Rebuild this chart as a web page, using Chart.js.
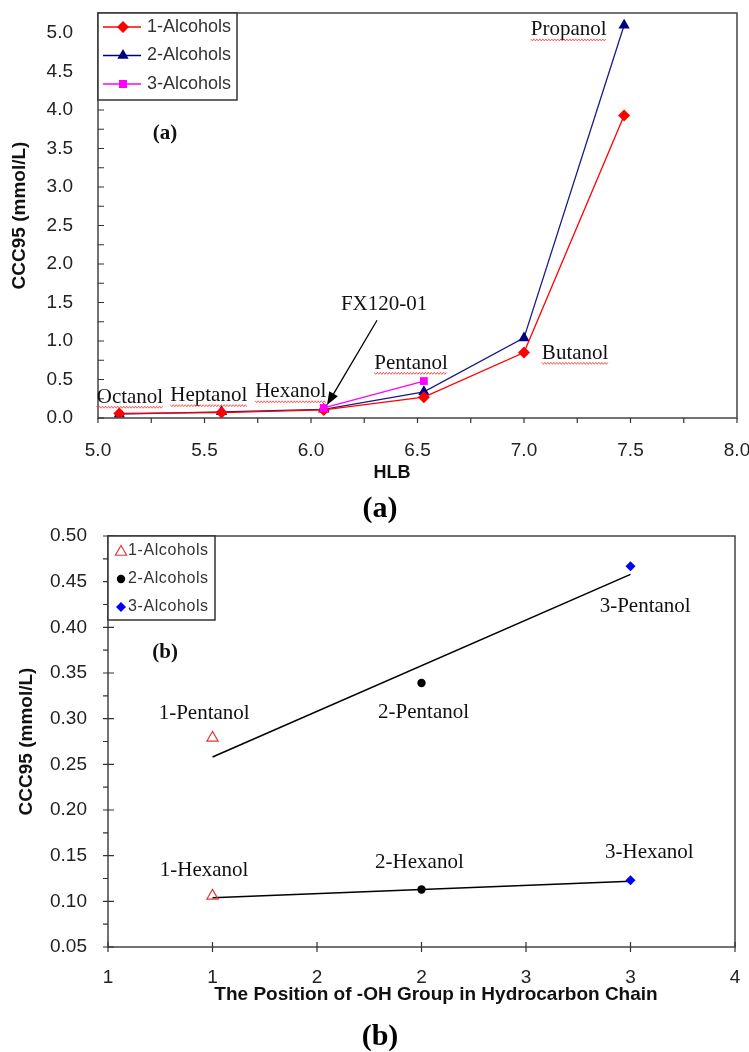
<!DOCTYPE html>
<html>
<head>
<meta charset="utf-8">
<script src="https://cdn.jsdelivr.net/npm/chart.js@4.4.1/dist/chart.umd.min.js"></script>
<style>
html,body{margin:0;padding:0;background:#fff;}
#wrap{position:relative;width:749px;height:1052px;overflow:hidden;}
#ca{position:absolute;left:0;top:0;}
#cb{position:absolute;left:0;top:525px;}
</style>
</head>
<body>
<div id="wrap">
<canvas id="ca" width="749" height="525"></canvas>
<canvas id="cb" width="749" height="527"></canvas>
</div>
<script>
// ---------- Panel (a) data ----------
const hlbValues = [5.10, 5.58, 6.06, 6.53, 7.00, 7.47];
const ccc1Alcohols = [0.06, 0.07, 0.105, 0.27, 0.85, 3.93];
const ccc2Alcohols = [0.05, 0.08, 0.113, 0.34, 1.04, 5.10];
const hlb3Alcohols = [6.06, 6.53];
const ccc3Alcohols = [0.13, 0.48];
const seriesNames = ['1-Alcohols', '2-Alcohols', '3-Alcohols'];
const xTicksA = [5.0, 5.5, 6.0, 6.5, 7.0, 7.5, 8.0];
const xTickLabelsA = ['5.0', '5.5', '6.0', '6.5', '7.0', '7.5', '8.0'];
const yTicksA = [0, 0.5, 1.0, 1.5, 2.0, 2.5, 3.0, 3.5, 4.0, 4.5, 5.0];
const yTickLabelsA = ['0.0', '0.5', '1.0', '1.5', '2.0', '2.5', '3.0', '3.5', '4.0', '4.5', '5.0'];
const alcoholNamesA = ['Octanol', 'Heptanol', 'Hexanol', 'Pentanol', 'Butanol', 'Propanol'];

// ---------- Panel (b) data ----------
const ohPosition = [1, 2, 3];
const cccPentanol = [0.279, 0.339, 0.467];
const cccHexanol = [0.106, 0.113, 0.123];
const fitX = [1, 3];
const fitPentanol = [0.258, 0.458];
const fitHexanol = [0.104, 0.122];
const pentanolNames = ['1-Pentanol', '2-Pentanol', '3-Pentanol'];
const hexanolNames = ['1-Hexanol', '2-Hexanol', '3-Hexanol'];
const xTicksB = [0.5, 1.0, 1.5, 2.0, 2.5, 3.0, 3.5];
const xTickLabelsB = ['1', '1', '2', '2', '3', '3', '4'];
const yTicksB = [0.05, 0.10, 0.15, 0.20, 0.25, 0.30, 0.35, 0.40, 0.45, 0.50];
const yTickLabelsB = ['0.05', '0.10', '0.15', '0.20', '0.25', '0.30', '0.35', '0.40', '0.45', '0.50'];

// ---------- helpers ----------
const SANS = "'Liberation Sans', Arial, sans-serif";
const SERIF = "'Liberation Serif', 'Times New Roman', serif";

function drawMarker(ctx, style, x, y, r, fill, stroke, lw) {
  ctx.save();
  ctx.beginPath();
  if (style === 'diamond') {
    ctx.moveTo(x, y - r); ctx.lineTo(x + r, y); ctx.lineTo(x, y + r); ctx.lineTo(x - r, y); ctx.closePath();
  } else if (style === 'triangle') {
    ctx.moveTo(x, y - r); ctx.lineTo(x + r * 0.866, y + r * 0.5); ctx.lineTo(x - r * 0.866, y + r * 0.5); ctx.closePath();
  } else if (style === 'square') {
    ctx.rect(x - r, y - r, 2 * r, 2 * r);
  } else {
    ctx.arc(x, y, r, 0, Math.PI * 2);
  }
  if (fill) { ctx.fillStyle = fill; ctx.fill(); }
  if (stroke) { ctx.strokeStyle = stroke; ctx.lineWidth = lw || 1; ctx.stroke(); }
  ctx.restore();
}

function wavy(ctx, x0, x1, y) {
  ctx.save();
  ctx.strokeStyle = '#ff3030';
  ctx.lineWidth = 0.8;
  ctx.beginPath();
  let i = 0;
  for (let x = x0; x <= x1; x += 1.5, i++) {
    const yy = y + ((i % 2) ? 1 : -1);
    if (i === 0) ctx.moveTo(x, yy); else ctx.lineTo(x, yy);
  }
  ctx.stroke();
  ctx.restore();
}

function serifLabel(ctx, text, px, py, underline) {
  ctx.save();
  ctx.font = '21px ' + SERIF;
  ctx.fillStyle = '#111';
  ctx.textAlign = 'center';
  ctx.textBaseline = 'middle';
  ctx.fillText(text, px, py);
  if (underline) {
    const w = ctx.measureText(text).width;
    wavy(ctx, px - w / 2, px + w / 2, py + 10);
  }
  ctx.restore();
}

function ticksFromArray(arr) {
  return s => { s.ticks = arr.map(v => ({ value: v })); };
}
function fixSize(prop, val) {
  return s => {
    s[prop] = val;
    s.paddingTop = 0; s.paddingBottom = 0; s.paddingLeft = 0; s.paddingRight = 0;
  };
}

// ---------- Panel (a) annotations (data coordinates) ----------
const labelPosA = [
  { x: 5.15, y: 0.27 }, { x: 5.52, y: 0.29 }, { x: 5.905, y: 0.34 },
  { x: 6.47, y: 0.71 }, { x: 7.24, y: 0.84 }, { x: 7.21, y: 5.04 }
];

const panelAPlugin = {
  id: 'panelA',
  afterDraw(chart) {
    const { ctx, chartArea: ca, scales: { x, y } } = chart;
    ctx.save();
    ctx.strokeStyle = '#444';
    ctx.lineWidth = 1.5;
    ctx.strokeRect(ca.left, ca.top, ca.right - ca.left, ca.bottom - ca.top);
    ctx.strokeStyle = '#333';
    ctx.lineWidth = 1.2;
    ctx.beginPath();
    for (let i = 0; i < xTicksA.length; i++) {
      const vals = [xTicksA[i]];
      if (i < xTicksA.length - 1) vals.push((xTicksA[i] + xTicksA[i + 1]) / 2);
      vals.forEach(v => { const px = x.getPixelForValue(v); ctx.moveTo(px, ca.bottom); ctx.lineTo(px, ca.bottom + 5); });
    }
    for (let i = 0; i < yTicksA.length; i++) {
      const vals = [yTicksA[i]];
      if (i < yTicksA.length - 1) vals.push((yTicksA[i] + yTicksA[i + 1]) / 2);
      vals.forEach(v => { const py = y.getPixelForValue(v); ctx.moveTo(ca.left, py); ctx.lineTo(ca.left + 6, py); });
    }
    ctx.stroke();

    alcoholNamesA.forEach((name, i) => {
      serifLabel(ctx, name, x.getPixelForValue(labelPosA[i].x), y.getPixelForValue(labelPosA[i].y), true);
    });
    serifLabel(ctx, 'FX120-01', x.getPixelForValue(6.343), y.getPixelForValue(1.48), false);

    const tx = x.getPixelForValue(6.31), ty = y.getPixelForValue(1.27);
    const hx = x.getPixelForValue(6.075), hy = y.getPixelForValue(0.17);
    const ang = Math.atan2(hy - ty, hx - tx);
    ctx.strokeStyle = '#000';
    ctx.lineWidth = 1.3;
    ctx.beginPath();
    ctx.moveTo(tx, ty);
    ctx.lineTo(hx - 10 * Math.cos(ang), hy - 10 * Math.sin(ang));
    ctx.stroke();
    ctx.fillStyle = '#000';
    ctx.beginPath();
    ctx.moveTo(hx, hy);
    ctx.lineTo(hx - 13 * Math.cos(ang) + 5 * Math.sin(ang), hy - 13 * Math.sin(ang) - 5 * Math.cos(ang));
    ctx.lineTo(hx - 13 * Math.cos(ang) - 5 * Math.sin(ang), hy - 13 * Math.sin(ang) + 5 * Math.cos(ang));
    ctx.closePath();
    ctx.fill();

    ctx.font = 'bold 21px ' + SERIF;
    ctx.fillStyle = '#111';
    ctx.textAlign = 'center';
    ctx.textBaseline = 'middle';
    ctx.fillText('(a)', x.getPixelForValue(5.315), y.getPixelForValue(3.70));

    const lx = ca.left, ly = ca.top, lw = 139, lh = 87;
    ctx.fillStyle = '#fff';
    ctx.fillRect(lx, ly, lw, lh);
    ctx.strokeStyle = '#333';
    ctx.lineWidth = 1.5;
    ctx.strokeRect(lx, ly, lw, lh);
    const legA = [
      { c: '#ff0000', m: 'diamond', r: 6 },
      { c: '#000080', m: 'triangle', r: 6.5 },
      { c: '#ff00ff', m: 'square', r: 4 }
    ];
    legA.forEach((e, i) => {
      const yy = ly + 14 + i * 28.5;
      ctx.strokeStyle = e.c;
      ctx.lineWidth = 1.3;
      ctx.beginPath(); ctx.moveTo(lx + 5, yy); ctx.lineTo(lx + 43, yy); ctx.stroke();
      drawMarker(ctx, e.m, lx + 25, yy, e.r, e.c, null);
      ctx.font = '18px ' + SANS;
      ctx.fillStyle = '#333';
      ctx.textAlign = 'left';
      ctx.textBaseline = 'middle';
      ctx.fillText(seriesNames[i], lx + 49, yy);
    });

    ctx.fillStyle = '#111';
    ctx.font = 'bold 18px ' + SANS;
    ctx.textAlign = 'center';
    ctx.textBaseline = 'middle';
    ctx.fillText('HLB', 392, 473);
    ctx.save();
    ctx.translate(20, (ca.top + ca.bottom) / 2);
    ctx.rotate(-Math.PI / 2);
    ctx.font = 'bold 19px ' + SANS;
    ctx.fillText('CCC95 (mmol/L)', 0, 0);
    ctx.restore();

    ctx.font = 'bold 30px ' + SERIF;
    ctx.fillStyle = '#000';
    ctx.fillText('(a)', 380, 509);
    ctx.restore();
  }
};

new Chart(document.getElementById('ca'), {
  type: 'scatter',
  data: {
    datasets: [
      {
        label: seriesNames[0],
        data: hlbValues.map((v, i) => ({ x: v, y: ccc1Alcohols[i] })),
        showLine: true, borderColor: '#ff0000', backgroundColor: '#ff0000', borderWidth: 1.3,
        pointStyle: 'rectRot', pointRadius: 6, pointBorderWidth: 0, order: 1
      },
      {
        label: seriesNames[1],
        data: hlbValues.map((v, i) => ({ x: v, y: ccc2Alcohols[i] })),
        showLine: true, borderColor: '#1a1a8a', backgroundColor: '#000080', borderWidth: 1.3,
        pointStyle: 'triangle', pointRadius: 6.5, pointBorderWidth: 0, order: 2
      },
      {
        label: seriesNames[2],
        data: hlb3Alcohols.map((v, i) => ({ x: v, y: ccc3Alcohols[i] })),
        showLine: true, borderColor: '#ff00ff', backgroundColor: '#ff00ff', borderWidth: 1.3,
        pointStyle: 'rect', pointRadius: 5.5, pointBorderWidth: 0, order: 0
      }
    ]
  },
  options: {
    responsive: false,
    animation: false,
    events: [],
    layout: { padding: { top: 13, right: 12, left: 0, bottom: 0 } },
    plugins: { legend: { display: false }, tooltip: { enabled: false } },
    scales: {
      x: {
        type: 'linear', min: 5, max: 8,
        afterBuildTicks: ticksFromArray(xTicksA),
        afterFit: fixSize('height', 107),
        grid: { display: false, drawTicks: false, tickLength: 0 },
        border: { display: false },
        ticks: { callback: (v, i) => xTickLabelsA[i], font: { family: SANS, size: 19 }, color: '#222', padding: 21, maxRotation: 0, autoSkip: false }
      },
      y: {
        type: 'linear', min: 0, max: 5.26,
        afterBuildTicks: ticksFromArray(yTicksA),
        afterFit: fixSize('width', 98),
        grid: { display: false, drawTicks: false, tickLength: 0 },
        border: { display: false },
        ticks: { callback: (v, i) => yTickLabelsA[i], font: { family: SANS, size: 19 }, color: '#222', padding: 25, autoSkip: false }
      }
    }
  },
  plugins: [panelAPlugin]
});

// ---------- Panel (b) ----------
const labelPosPentanol = [{ x: 0.96, y: 0.306 }, { x: 2.01, y: 0.307 }, { x: 3.07, y: 0.423 }];
const labelPosHexanol = [{ x: 0.96, y: 0.134 }, { x: 1.99, y: 0.143 }, { x: 3.09, y: 0.154 }];

const panelBPlugin = {
  id: 'panelB',
  afterDraw(chart) {
    const { ctx, chartArea: ca, scales: { x, y } } = chart;
    ctx.save();
    ctx.strokeStyle = '#444';
    ctx.lineWidth = 1.5;
    ctx.strokeRect(ca.left, ca.top, ca.right - ca.left, ca.bottom - ca.top);
    ctx.strokeStyle = '#333';
    ctx.lineWidth = 1.2;
    ctx.beginPath();
    xTicksB.forEach(v => { const px = x.getPixelForValue(v); ctx.moveTo(px, ca.bottom - 5); ctx.lineTo(px, ca.bottom + 5); });
    for (let i = 0; i < yTicksB.length; i++) {
      const py = y.getPixelForValue(yTicksB[i]);
      ctx.moveTo(ca.left - 5, py); ctx.lineTo(ca.left + 6, py);
      if (i < yTicksB.length - 1) {
        const pm = y.getPixelForValue((yTicksB[i] + yTicksB[i + 1]) / 2);
        ctx.moveTo(ca.left - 5, pm); ctx.lineTo(ca.left, pm);
      }
    }
    ctx.stroke();

    pentanolNames.forEach((n, i) => serifLabel(ctx, n, x.getPixelForValue(labelPosPentanol[i].x), y.getPixelForValue(labelPosPentanol[i].y), false));
    hexanolNames.forEach((n, i) => serifLabel(ctx, n, x.getPixelForValue(labelPosHexanol[i].x), y.getPixelForValue(labelPosHexanol[i].y), false));

    ctx.font = 'bold 21px ' + SERIF;
    ctx.fillStyle = '#111';
    ctx.textAlign = 'center';
    ctx.textBaseline = 'middle';
    ctx.fillText('(b)', x.getPixelForValue(0.773), y.getPixelForValue(0.372));

    const lx = ca.left, ly = ca.top, lw = 107, lh = 84;
    ctx.fillStyle = '#fff';
    ctx.fillRect(lx, ly, lw, lh);
    ctx.strokeStyle = '#333';
    ctx.lineWidth = 1.5;
    ctx.strokeRect(lx, ly, lw, lh);
    const legB = [
      { m: 'triangle', r: 6.5, fill: null, stroke: '#e03a3a' },
      { m: 'circle', r: 4.2, fill: '#000', stroke: null },
      { m: 'diamond', r: 5, fill: '#0000ff', stroke: null }
    ];
    legB.forEach((e, i) => {
      const yy = ly + 15 + i * 28;
      drawMarker(ctx, e.m, lx + 13, yy + (e.m === 'triangle' ? 1 : 0), e.r, e.fill, e.stroke, 1.2);
      ctx.font = '16px ' + SANS;
      ctx.fillStyle = '#333';
      ctx.textAlign = 'left';
      ctx.textBaseline = 'middle';
      try { ctx.letterSpacing = '0.6px'; } catch (err) {}
      ctx.fillText(seriesNames[i], lx + 20, yy);
      try { ctx.letterSpacing = '0px'; } catch (err) {}
    });

    ctx.fillStyle = '#111';
    ctx.font = 'bold 19px ' + SANS;
    ctx.textAlign = 'center';
    ctx.textBaseline = 'middle';
    ctx.fillText('The Position of -OH Group in Hydrocarbon Chain', 436, 470);
    ctx.save();
    ctx.translate(27, (ca.top + ca.bottom) / 2);
    ctx.rotate(-Math.PI / 2);
    ctx.font = 'bold 19px ' + SANS;
    ctx.fillText('CCC95 (mmol/L)', 0, 0);
    ctx.restore();

    ctx.font = 'bold 30px ' + SERIF;
    ctx.fillStyle = '#000';
    ctx.fillText('(b)', 380, 512);
    ctx.restore();
  }
};

new Chart(document.getElementById('cb'), {
  type: 'scatter',
  data: {
    datasets: [
      {
        label: 'Pentanol fit',
        data: fitX.map((v, i) => ({ x: v, y: fitPentanol[i] })),
        showLine: true, borderColor: '#000', borderWidth: 1.6, pointRadius: 0, order: 5
      },
      {
        label: 'Hexanol fit',
        data: fitX.map((v, i) => ({ x: v, y: fitHexanol[i] })),
        showLine: true, borderColor: '#000', borderWidth: 1.6, pointRadius: 0, order: 5
      },
      {
        label: seriesNames[0],
        data: [{ x: ohPosition[0], y: cccPentanol[0] }, { x: ohPosition[0], y: cccHexanol[0] }],
        pointStyle: 'triangle', pointRadius: 6.5, backgroundColor: 'rgba(255,255,255,0)', borderColor: '#e03a3a', pointBorderWidth: 1.2, order: 1
      },
      {
        label: seriesNames[1],
        data: [{ x: ohPosition[1], y: cccPentanol[1] }, { x: ohPosition[1], y: cccHexanol[1] }],
        pointStyle: 'circle', pointRadius: 4.2, backgroundColor: '#000', borderColor: '#000', pointBorderWidth: 0, order: 1
      },
      {
        label: seriesNames[2],
        data: [{ x: ohPosition[2], y: cccPentanol[2] }, { x: ohPosition[2], y: cccHexanol[2] }],
        pointStyle: 'rectRot', pointRadius: 5, backgroundColor: '#0000ff', borderColor: '#0000ff', pointBorderWidth: 0, order: 1
      }
    ]
  },
  options: {
    responsive: false,
    animation: false,
    events: [],
    layout: { padding: { top: 11, right: 14, left: 0, bottom: 0 } },
    plugins: { legend: { display: false }, tooltip: { enabled: false } },
    scales: {
      x: {
        type: 'linear', min: 0.5, max: 3.5,
        afterBuildTicks: ticksFromArray(xTicksB),
        afterFit: fixSize('height', 105),
        grid: { display: false, drawTicks: false, tickLength: 0 },
        border: { display: false },
        ticks: { callback: (v, i) => xTickLabelsB[i], font: { family: SANS, size: 19 }, color: '#222', padding: 19, maxRotation: 0, autoSkip: false }
      },
      y: {
        type: 'linear', min: 0.05, max: 0.50,
        afterBuildTicks: ticksFromArray(yTicksB),
        afterFit: fixSize('width', 108),
        grid: { display: false, drawTicks: false, tickLength: 0 },
        border: { display: false },
        ticks: { callback: (v, i) => yTickLabelsB[i], font: { family: SANS, size: 19 }, color: '#222', padding: 21, autoSkip: false }
      }
    }
  },
  plugins: [panelBPlugin]
});
</script>
</body>
</html>
